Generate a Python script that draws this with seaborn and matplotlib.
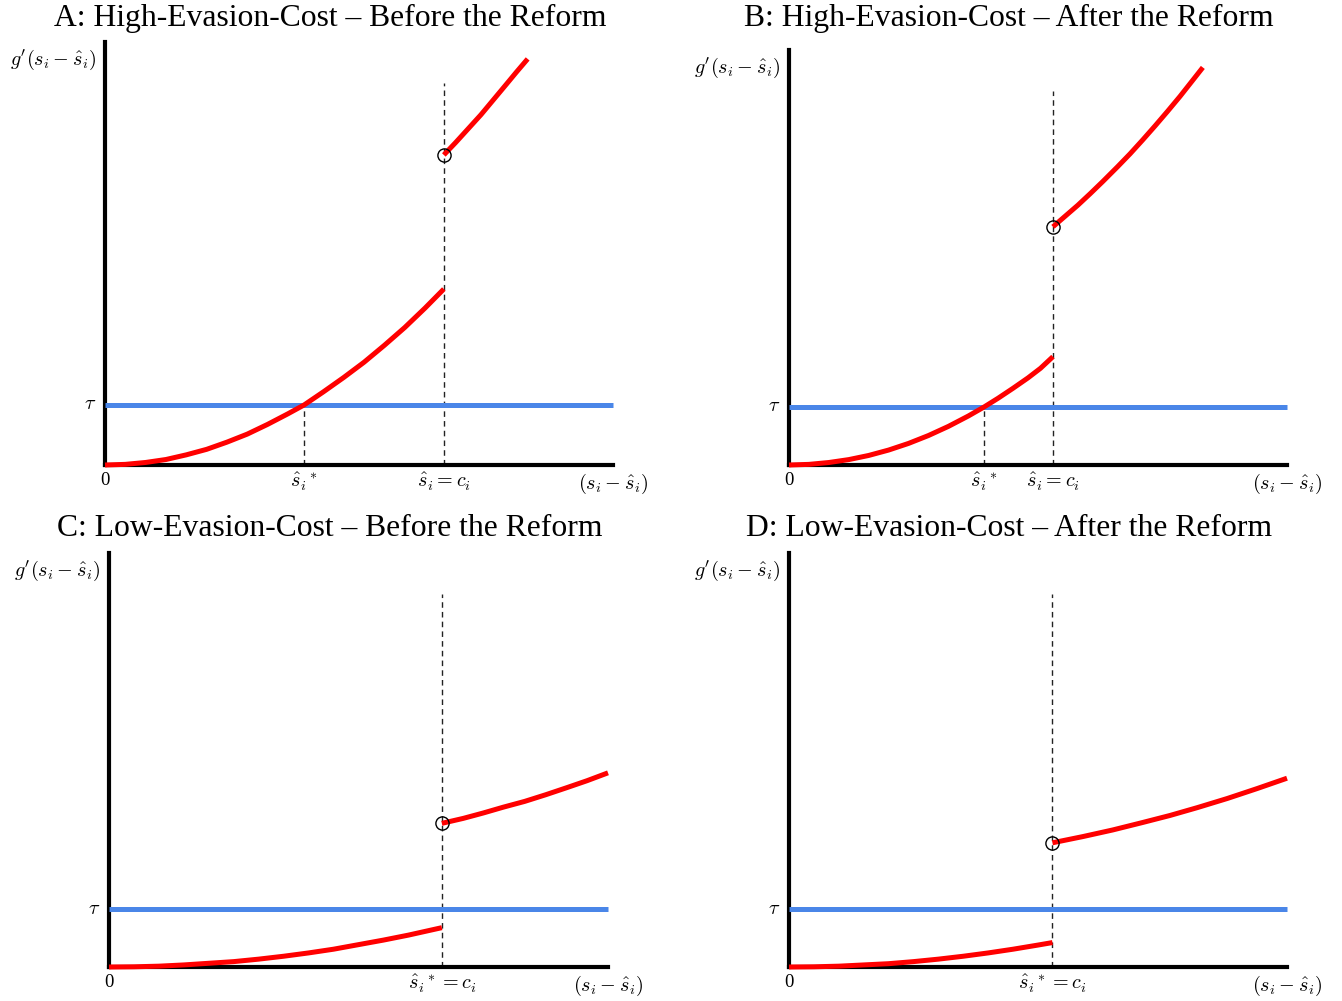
import matplotlib
matplotlib.use("Agg")
import matplotlib.pyplot as plt
import seaborn as sns

sns.set_theme(style="white")
plt.rcParams["font.family"] = ["Liberation Serif", "DejaVu Serif"]
plt.rcParams["mathtext.fontset"] = "cm"
plt.rcParams["text.color"] = "black"

# ---- Panel A: high evasion cost, before the reform ----
a_low_x = [0.0, 0.04, 0.08, 0.12, 0.16, 0.2, 0.24, 0.28, 0.32, 0.36, 0.392,
           0.43, 0.47, 0.51, 0.55, 0.59, 0.63, 0.667]
a_low_y = [0.0, 0.0015, 0.006, 0.013, 0.024, 0.037, 0.054, 0.073, 0.096, 0.121, 0.142,
           0.173, 0.207, 0.243, 0.283, 0.325, 0.371, 0.416]
a_up_x = [0.667, 0.69, 0.715, 0.74, 0.765, 0.79, 0.81, 0.832]
a_up_y = [0.733, 0.762, 0.795, 0.828, 0.864, 0.900, 0.929, 0.960]
a_tau, a_sstar, a_c = 0.142, 0.392, 0.667

# ---- Panel B: high evasion cost, after the reform ----
b_low_x = [0.0, 0.04, 0.08, 0.12, 0.16, 0.2, 0.24, 0.28, 0.32, 0.36, 0.392,
           0.42, 0.45, 0.48, 0.505, 0.53]
b_low_y = [0.0, 0.0015, 0.006, 0.013, 0.023, 0.036, 0.052, 0.071, 0.093, 0.118, 0.140,
           0.161, 0.185, 0.210, 0.233, 0.261]
b_up_x = [0.53, 0.555, 0.58, 0.605, 0.63, 0.66, 0.685, 0.71, 0.735, 0.76, 0.785, 0.81, 0.831]
b_up_y = [0.574, 0.600, 0.626, 0.654, 0.683, 0.719, 0.750, 0.783, 0.817, 0.852, 0.888, 0.926, 0.958]
b_tau, b_sstar, b_c = 0.140, 0.392, 0.530

# ---- Panel C: low evasion cost, before the reform ----
c_low_x = [0.0, 0.05, 0.1, 0.15, 0.2, 0.25, 0.3, 0.35, 0.4, 0.45, 0.5, 0.55, 0.6, 0.667]
c_low_y = [0.0, 0.0005, 0.002, 0.005, 0.009, 0.013, 0.019, 0.026, 0.034, 0.043, 0.054,
           0.065, 0.077, 0.095]
c_up_x = [0.667, 0.71, 0.75, 0.79, 0.833, 0.875, 0.917, 0.958, 1.0]
c_up_y = [0.347, 0.359, 0.372, 0.386, 0.400, 0.416, 0.433, 0.450, 0.469]
c_tau, c_c = 0.140, 0.667

# ---- Panel D: low evasion cost, after the reform ----
d_low_x = [0.0, 0.05, 0.1, 0.15, 0.2, 0.25, 0.3, 0.35, 0.4, 0.45, 0.5, 0.529]
d_low_y = [0.0, 0.0005, 0.002, 0.005, 0.008, 0.013, 0.019, 0.026, 0.034, 0.043, 0.053, 0.059]
d_up_x = [0.529, 0.59, 0.65, 0.71, 0.765, 0.82, 0.88, 0.94, 1.0]
d_up_y = [0.300, 0.315, 0.331, 0.349, 0.366, 0.385, 0.407, 0.431, 0.456]
d_tau, d_c = 0.140, 0.529

titles = [
    "A: High-Evasion-Cost \u2013 Before the Reform",
    "B: High-Evasion-Cost \u2013 After the Reform",
    "C: Low-Evasion-Cost \u2013 Before the Reform",
    "D: Low-Evasion-Cost \u2013 After the Reform",
]

RED = "#ff0000"
BLUE = "#4a86e8"
W, H = 1342, 1001
MATH_SIZE = 14.5

fig = plt.figure(figsize=(W / 100, H / 100), dpi=100)


def make_axes(left, bottom, right, top):
    return fig.add_axes([left / W, 1 - bottom / H, (right - left) / W, (bottom - top) / H])


def draw_panel(ax, title, title_xy, low_x, low_y, up_x, up_y, tau, c, sstar=None,
               c_label=r"$\hat{s}_i = c_i$"):
    ax.set_xlim(0, 1)
    ax.set_ylim(0, 1)
    for side in ("top", "right"):
        ax.spines[side].set_visible(False)
    for side in ("left", "bottom"):
        ax.spines[side].set_color("black")
        ax.spines[side].set_linewidth(3.0)
    ax.set_xticks([])
    ax.set_yticks([])

    dash = dict(color="#222222", lw=1.0, linestyle=(0, (4, 3)), zorder=2)
    ax.plot([c, c], [0, 0.902], **dash)
    if sstar is not None:
        ax.plot([sstar, sstar], [0, tau], **dash)

    sns.lineplot(x=[0, 1], y=[tau, tau], ax=ax, color=BLUE, linewidth=3.6, zorder=3)
    for xs, ys in ((low_x, low_y), (up_x, up_y)):
        sns.lineplot(x=xs, y=ys, ax=ax, color=RED, linewidth=3.6, zorder=4,
                     estimator=None)
    for line in ax.lines:
        line.set_clip_on(False)
        line.set_solid_capstyle("butt")
        line.set_solid_joinstyle("round")
    ax.plot([up_x[0]], [up_y[0]], marker="o", markersize=9.5, markerfacecolor="none",
            markeredgecolor="black", markeredgewidth=1.0, clip_on=False, zorder=5)

    fig.text(title_xy[0] / W, 1 - title_xy[1] / H, title, fontsize=22.8,
             ha="center", va="center", color="black")
    ax.annotate(r"$g'(s_i - \hat{s}_i)$", xy=(0, 1), xytext=(-6, -13),
                textcoords="offset points", ha="right", va="center", fontsize=MATH_SIZE)
    ax.annotate(r"$\tau$", xy=(0, tau), xytext=(-6, 0), textcoords="offset points",
                ha="right", va="center", fontsize=MATH_SIZE)
    ax.annotate("0", xy=(0, 0), xytext=(0, -5), textcoords="offset points",
                ha="center", va="top", fontsize=13.5)
    ax.annotate(r"$(s_i - \hat{s}_i)$", xy=(1, 0), xytext=(0, -5),
                textcoords="offset points", ha="center", va="top", fontsize=MATH_SIZE)
    ax.annotate(c_label, xy=(c, 0), xytext=(0, -4), textcoords="offset points",
                ha="center", va="top", fontsize=MATH_SIZE)
    if sstar is not None:
        ax.annotate(r"$\hat{s}_i{}^*$", xy=(sstar, 0), xytext=(0, -4),
                    textcoords="offset points", ha="center", va="top", fontsize=MATH_SIZE)


ax_a = make_axes(105, 465, 613, 42)
ax_b = make_axes(789, 465, 1287, 50)
ax_c = make_axes(109, 967, 608, 553)
ax_d = make_axes(789, 967, 1287, 553)

draw_panel(ax_a, titles[0], (330, 18), a_low_x, a_low_y, a_up_x, a_up_y, a_tau, a_c,
           sstar=a_sstar)
draw_panel(ax_b, titles[1], (1009, 18), b_low_x, b_low_y, b_up_x, b_up_y, b_tau, b_c,
           sstar=b_sstar)
draw_panel(ax_c, titles[2], (330, 529), c_low_x, c_low_y, c_up_x, c_up_y, c_tau, c_c,
           c_label=r"$\hat{s}_i{}^* = c_i$")
draw_panel(ax_d, titles[3], (1009, 529), d_low_x, d_low_y, d_up_x, d_up_y, d_tau, d_c,
           c_label=r"$\hat{s}_i{}^* = c_i$")

fig.savefig("out.png", dpi=100, facecolor="white")
